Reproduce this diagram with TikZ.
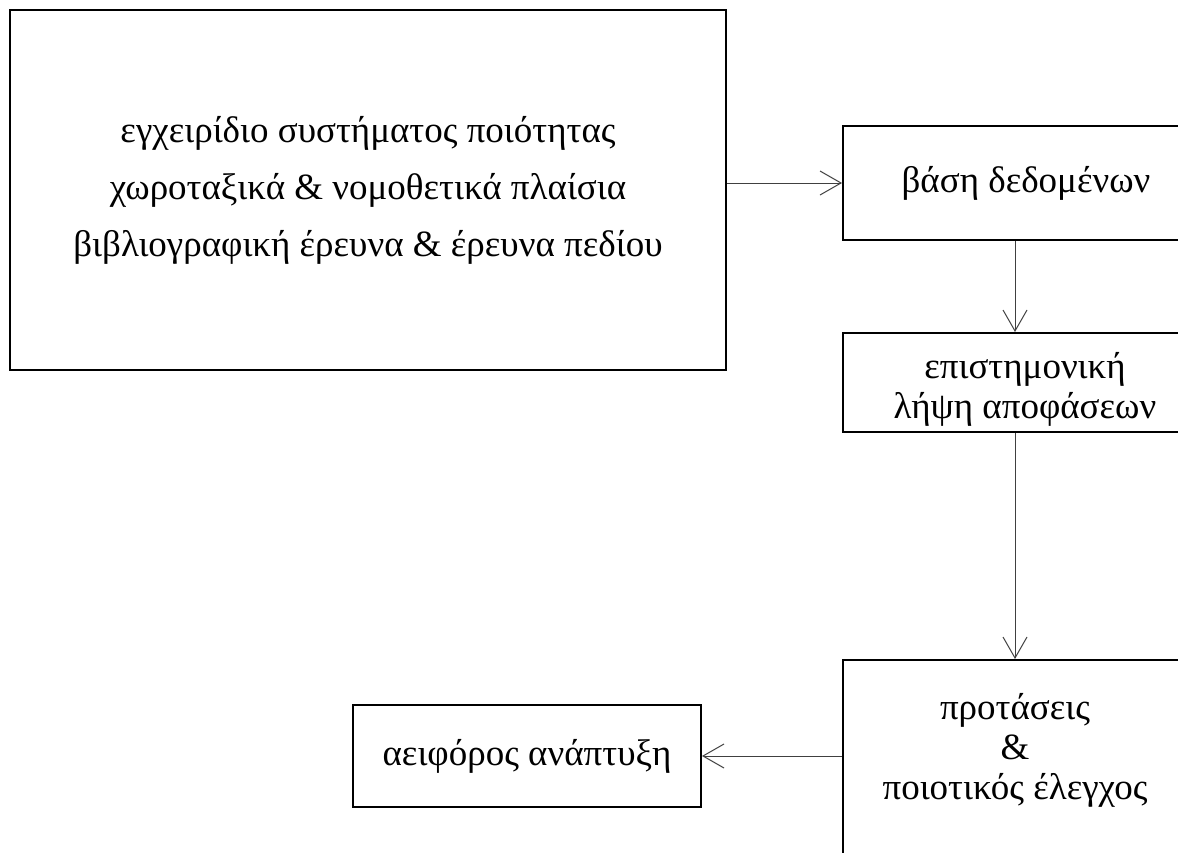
\documentclass[tikz,border=0pt]{standalone}
\usepackage{fontspec}
\setmainfont{Liberation Serif}
\usetikzlibrary{arrows.meta}
\begin{document}
\begin{tikzpicture}[x=1pt,y=-1pt,
  box/.style={draw=black,line width=2pt,rectangle,inner sep=0pt,align=center,
    font=\fontsize{37}{40}\selectfont},
  conn/.style={draw=black!75,line width=1pt,-{Straight Barb[length=21pt,width=24pt,line width=1pt]}}]
\useasboundingbox (0,0) rectangle (1178,852);
\clip (0,0) rectangle (1178,852);
\fill[white] (0,0) rectangle (1178,852);
\node[box,minimum width=716pt,minimum height=360pt] (src) at (368,190)
  {εγχειρίδιο συστήματος ποιότητας\\[17pt]
   χωροταξικά \& νομοθετικά πλαίσια\\[17pt]
   βιβλιογραφική έρευνα \& έρευνα πεδίου};
\node[box,minimum width=366pt,minimum height=114pt] (db) at (1026,183) {βάση δεδομένων};
\node[box,minimum width=364pt,minimum height=99pt] (dec) at (1025,382.5)
  {\rule{0pt}{40pt}επιστημονική\\λήψη αποφάσεων};
\node[box,minimum width=344pt,minimum height=220pt] (prop) at (1015,770)
  {προτάσεις\\\&\\ποιοτικός έλεγχος\rule[-48pt]{0pt}{0pt}};
\node[box,minimum width=348pt,minimum height=102pt] (sust) at (527,756) {αειφόρος ανάπτυξη};
\draw[conn] (src.east |- db.west) -- (db.west);
\draw[conn] (db.south -| prop.north) -- (dec.north -| prop.north);
\draw[conn] (dec.south -| prop.north) -- (prop.north);
\draw[conn] (prop.west |- sust.east) -- (sust.east);
\end{tikzpicture}
\end{document}
